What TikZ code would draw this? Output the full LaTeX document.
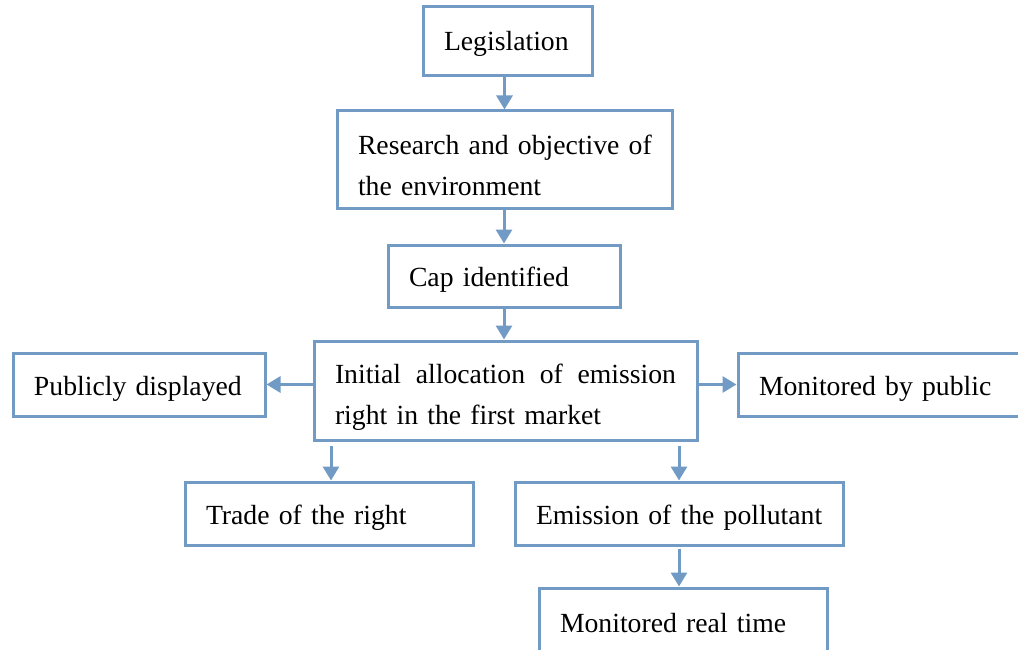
\documentclass[tikz,border=0pt]{standalone}
\usepackage{fontspec}
\setmainfont{Liberation Serif}
\usetikzlibrary{arrows.meta}
\definecolor{boxblue}{RGB}{113,155,197}
\newcommand\tup[1]{\rule{0pt}{#1}}
\begin{document}
\begin{tikzpicture}[x=1pt,y=-1pt,
  box/.style={draw=boxblue, line width=3pt, rectangle, inner xsep=21pt, inner ysep=0pt,
    align=left, font=\fontsize{27.7}{41}\selectfont},
  arr/.style={draw=boxblue, line width=3pt, -{Triangle[length=14pt,width=16pt]}}]
\useasboundingbox (0,0) rectangle (1018,650);
\node[box, text width=127pt, minimum width=169pt, minimum height=69pt] (leg) at (507.5,41.5) {\tup{24pt}\mbox{Legislation}};
\node[box, text width=293pt, minimum width=335pt, minimum height=97pt] (res) at (504.5,159.5) {\tup{31pt}\mbox{Research and objective of}\\\mbox{the environment}};
\node[box, text width=190pt, minimum width=232pt, minimum height=62pt] (cap) at (504,276) {\tup{27pt}\mbox{Cap identified}};
\node[box, text width=341pt, minimum width=383pt, minimum height=99pt] (init) at (505.5,390.5) {\tup{33pt}\hbox to 341pt{Initial\hfill allocation\hfill of\hfill emission}\\\mbox{right in the first market}};
\node[box, text width=210pt, minimum width=252pt, minimum height=63pt] (pub) at (139,384.5) {\tup{27pt}\mbox{Publicly displayed}};
\node[box, text width=265pt, minimum width=307pt, minimum height=63pt] (mon) at (891.5,384.5) {\tup{27pt}\mbox{Monitored by public}};
\node[box, text width=246pt, minimum width=288pt, minimum height=63pt] (trade) at (329,513.5) {\tup{27pt}\mbox{Trade of the right}};
\node[box, text width=286pt, minimum width=328pt, minimum height=63pt] (emis) at (679,513.5) {\tup{27pt}\mbox{Emission of the pollutant}};
\node[box, text width=246pt, minimum width=288pt, minimum height=65pt] (real) at (683,620.5) {\tup{25pt}\mbox{Monitored real time}};
\draw[arr] (leg.south -| res.north) -- (res.north);
\draw[arr] (res.south -| cap.north) -- (cap.north);
\draw[arr] (cap.south) -- (cap.south |- init.north);
\draw[arr] (init.west |- pub.east) -- (pub.east);
\draw[arr] (init.east |- mon.west) -- (mon.west);
\draw[arr, shorten <=4pt] ([xshift=2pt]init.south -| trade.north) -- ([xshift=2pt]trade.north);
\draw[arr, shorten <=4pt] (init.south -| emis.north) -- (emis.north);
\draw[arr, shorten <=2pt] (emis.south) -- (emis.south |- real.north);
\end{tikzpicture}
\end{document}
